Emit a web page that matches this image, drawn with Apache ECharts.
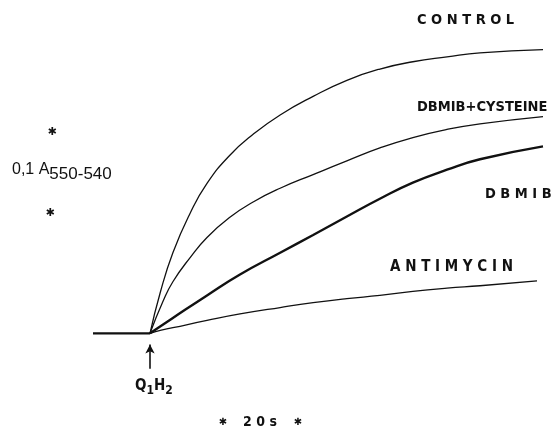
<!DOCTYPE html>
<html>
<head>
<meta charset="utf-8">
<script src="https://cdn.jsdelivr.net/npm/echarts@6/dist/echarts.min.js"></script>
<style>
html,body{margin:0;padding:0;background:#fff;}
#chart{width:557px;height:430px;}
</style>
</head>
<body>
<div id="chart"></div>
<script>
// time (s) after Q1H2 addition, absorbance change (A550-540)
var baselineData = [[-15.2, 0], [-8, 0], [0, 0]];
var controlData = [[0, 0], [2.7, 0.050], [6.1, 0.100], [10.7, 0.149], [15.2, 0.186], [21.3, 0.221], [27.5, 0.247], [34.7, 0.271], [43.5, 0.294], [52.5, 0.314], [61.3, 0.328], [70.1, 0.337], [79.2, 0.343], [88, 0.348], [104.8, 0.352]];
var dbmibCysData = [[0, 0], [3.5, 0.040], [6.1, 0.064], [10.7, 0.094], [15.2, 0.119], [21.3, 0.144], [27.5, 0.163], [34.7, 0.180], [43.5, 0.197], [52.5, 0.214], [61.3, 0.230], [70.1, 0.243], [79.2, 0.253], [88, 0.260], [104.8, 0.269]];
var dbmibData = [[0, 0], [6.1, 0.019], [15.2, 0.047], [24, 0.073], [34.7, 0.100], [43.5, 0.122], [52.5, 0.145], [61.3, 0.167], [70.1, 0.187], [79.2, 0.203], [88, 0.216], [104.8, 0.232]];
var antimycinData = [[0, 0], [3, 0.004], [6.1, 0.007], [15.2, 0.016], [24, 0.024], [34.7, 0.032], [43.5, 0.038], [52.5, 0.043], [61.3, 0.047], [70.1, 0.052], [79.2, 0.056], [88, 0.059], [103.2, 0.065]];
var seriesNames = ['CONTROL', 'DBMIB+CYSTEINE', 'DBMIB', 'ANTIMYCIN'];

var chart = echarts.init(document.getElementById('chart'), null, {renderer: 'canvas'});
var FF = "'DejaVu Sans Condensed', 'DejaVu Sans', sans-serif";
var lbl = {fontFamily: FF, fontWeight: 'bold', fontSize: 14.5, fill: '#111', textVerticalAlign: 'middle'};
function txt(x, y, s, extra) {
  var st = Object.assign({}, lbl, {text: s, x: x, y: y}, extra || {});
  return {type: 'text', style: st, silent: true};
}
function line(name, data, w) {
  return {name: name, type: 'line', data: data, smooth: 0.5, symbol: 'none',
    lineStyle: {color: '#111', width: w}, animation: false};
}
chart.setOption({
  backgroundColor: '#fff',
  animation: false,
  grid: {left: 0, top: 11, width: 555, height: 421},
  xAxis: {type: 'value', min: -40, max: 108, show: false},
  yAxis: {type: 'value', min: -0.12, max: 0.4, show: false},
  series: [
    {name: 'baseline', type: 'line', data: baselineData, symbol: 'none', lineStyle: {color: '#111', width: 2.2}, animation: false,
      markLine: {silent: true, symbol: ['arrow', 'none'], symbolSize: [7, 9], label: {show: false},
        lineStyle: {color: '#111', width: 1.6, type: 'solid'},
        data: [[{coord: [0, -0.014]}, {coord: [0, -0.044]}]]}},
    line(seriesNames[0], controlData, 1.3),
    line(seriesNames[1], dbmibCysData, 1.3),
    line(seriesNames[2], dbmibData, 2.4),
    line(seriesNames[3], antimycinData, 1.3)
  ],
  graphic: [
    txt(417, 20, 'C O N T R O L'),
    txt(417, 107, 'DBMIB+CYSTEINE'),
    txt(485, 194, 'D B M I B'),
    txt(390, 267, 'A N T I M Y C I N', {fontSize: 15}),
    {type: 'text', silent: true, style: {x: 12, y: 170, textVerticalAlign: 'middle',
      rich: {a: {fontFamily: 'Liberation Sans', fontSize: 16, fill: '#111'},
             s: {fontFamily: 'Liberation Sans', fontSize: 17, fill: '#111', padding: [9, 0, 0, 0]}},
      text: '{a|0,1 A}{s|550-540}'}},
    {type: 'text', silent: true, style: {x: 135, y: 386, textVerticalAlign: 'middle',
      rich: {a: {fontFamily: FF, fontWeight: 'bold', fontSize: 15, fill: '#111'},
             s: {fontFamily: FF, fontWeight: 'bold', fontSize: 12, fill: '#111', padding: [10, 0, 0, 0]}},
      text: '{a|Q}{s|1}{a|H}{s|2}'}},
    txt(52, 132, '✱', {fontFamily: 'DejaVu Sans', fontSize: 11, textAlign: 'center'}),
    txt(50, 213, '✱', {fontFamily: 'DejaVu Sans', fontSize: 11, textAlign: 'center'}),
    txt(223, 422, '✱', {fontFamily: 'DejaVu Sans', fontSize: 10, textAlign: 'center'}),
    txt(298, 422, '✱', {fontFamily: 'DejaVu Sans', fontSize: 10, textAlign: 'center'}),
    txt(260, 422, '2 0 s', {fontSize: 14, textAlign: 'center'})
  ]
});
</script>
</body>
</html>
